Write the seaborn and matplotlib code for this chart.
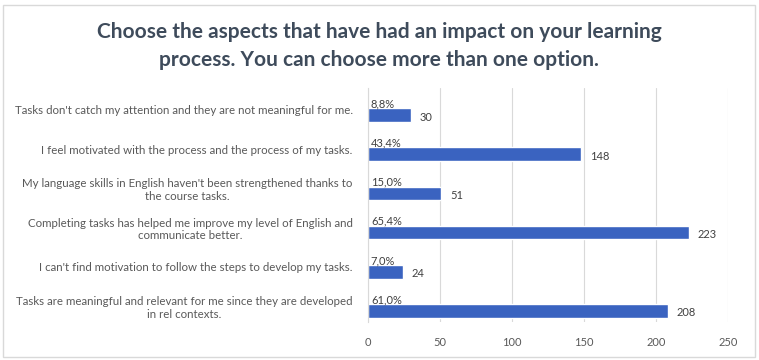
import matplotlib
matplotlib.use("Agg")
import matplotlib.pyplot as plt
import seaborn as sns
import pandas as pd
from matplotlib.patches import Rectangle

categories = [
    "Tasks don't catch my attention and they are not meaningful for me.",
    "I feel motivated with the process and the process of my tasks.",
    "My language skills in English haven't been strengthened thanks to\nthe course tasks.",
    "Completing tasks has helped me improve my level of English and\ncommunicate better.",
    "I can't find motivation to follow the steps to develop my tasks.",
    "Tasks are meaningful and relevant for me since they are developed\nin rel contexts.",
]
counts = [30, 148, 51, 223, 24, 208]
percents = [8.8, 43.4, 15.0, 65.4, 7.0, 61.0]
x_ticks = [0, 50, 100, 150, 200, 250]
title = "Choose the aspects that have had an impact on your learning\nprocess. You can choose more than one option."

sns.set_theme(style="white")
plt.rcParams["font.family"] = ["Lato", "DejaVu Sans"]

df = pd.DataFrame({"cat": categories, "count": counts})

W, H = 759, 360
fig = plt.figure(figsize=(W / 100, H / 100), dpi=100)
ax = fig.add_axes([368 / W, 1 - 322 / H, (728 - 368) / W, (322 - 88) / H])

sns.barplot(data=df, x="count", y="cat", orient="h", color="#3A63C0",
            width=0.344, saturation=1, ax=ax)

ax.set_xlim(0, 250)
ax.set_ylim(5.28, -0.69)
ax.set_xticks(x_ticks)
ax.set_xticklabels([str(t) for t in x_ticks], color="#595959", fontsize=8)
ax.tick_params(axis="x", length=0, pad=11)
ax.set_yticks([i - 0.13 for i in range(len(categories))])
ax.set_yticklabels(categories, color="#595959", fontsize=8.3, multialignment="center",
                   linespacing=1.2)
ax.tick_params(axis="y", length=0, pad=11)
ax.set_xlabel("")
ax.set_ylabel("")
ax.xaxis.grid(True, color="#D9D9D9", linewidth=0.8)
ax.set_axisbelow(True)
for s in ["top", "right", "bottom"]:
    ax.spines[s].set_visible(False)
ax.spines["left"].set_color("#D9D9D9")
ax.spines["left"].set_linewidth(0.8)

for i, (c, p) in enumerate(zip(counts, percents)):
    ax.text(2, i - 0.29, f"{p:.1f}%".replace(".", ","), ha="left", va="center",
            fontsize=8, color="#404040")
    ax.text(c + 6, i + 0.05, str(c), ha="left", va="center",
            fontsize=8, color="#404040")

fig.text(379 / W, 1 - 46 / H, title, ha="center", va="center", fontsize=15,
         fontweight="bold", color="#3E4B5B", linespacing=1.55)

fig.patches.append(Rectangle((3 / W, 1 - 357 / H), (755 - 3) / W, (357 - 5) / H,
                             transform=fig.transFigure, fill=False,
                             edgecolor="#D9D9D9", linewidth=1))

fig.savefig("out.png", dpi=100)
